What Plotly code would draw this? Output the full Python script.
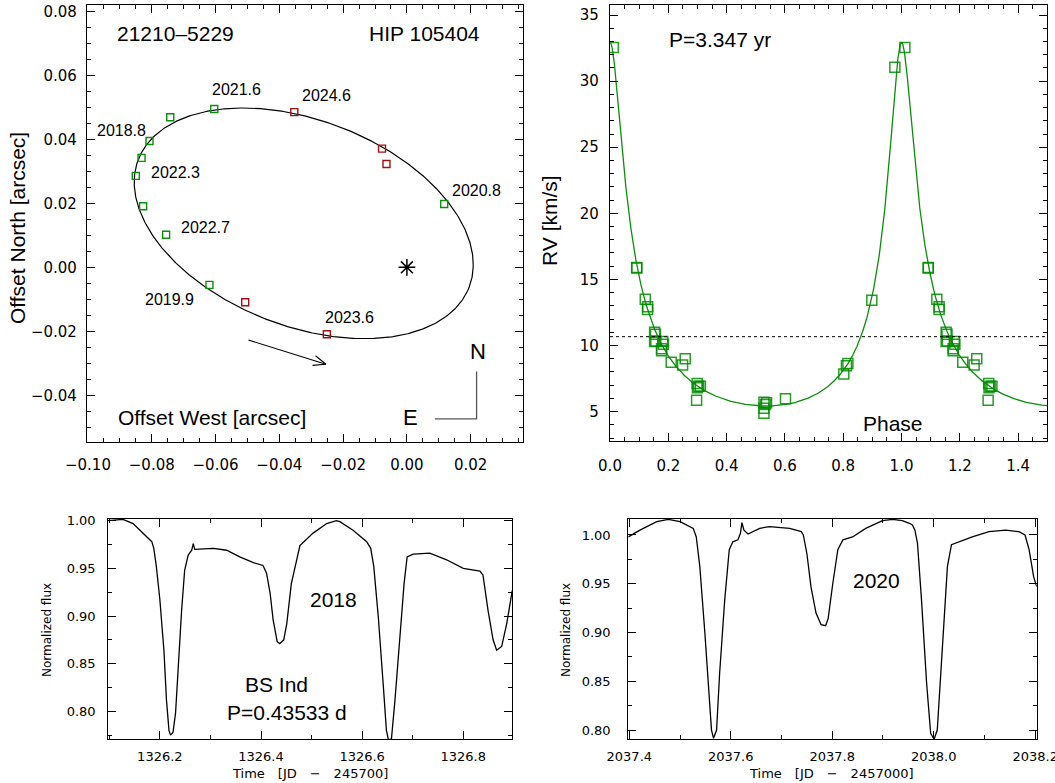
import numpy as np
import plotly.graph_objects as go

# ---------------- Relative astrometry (arcsec) ----------------
ORBIT_GREEN_X = [-0.0742, -0.0807, -0.0832, -0.0850, -0.0827, -0.0755, -0.0604, 0.0117, -0.0619]
ORBIT_GREEN_Y = [0.0469, 0.0395, 0.0342, 0.0286, 0.0191, 0.0102, 0.0495, 0.0198, -0.0055]
ORBIT_RED_X = [-0.0353, -0.0078, -0.0064, -0.0507, -0.0251]
ORBIT_RED_Y = [0.0485, 0.0371, 0.0323, -0.0109, -0.0209]

EPOCH_LABELS = ["2021.6", "2024.6", "2018.8", "2022.3", "2020.8", "2022.7", "2019.9", "2023.6"]
EPOCH_X = [-0.0534, -0.0252, -0.0894, -0.0725, 0.0218, -0.0630, -0.0743, -0.0179]
EPOCH_Y = [0.0557, 0.0538, 0.0427, 0.0296, 0.0239, 0.0125, -0.0102, -0.0158]

# apparent orbit ellipse: centre, semi-axes, orientation
ELL_CX, ELL_CY = -0.03235, 0.01375
ELL_A, ELL_B, ELL_PA_DEG = 0.05557, 0.0322, -20.98

# direction-of-motion arrow and N/E compass
ARROW_X = [-0.0497, -0.0254]
ARROW_Y = [-0.0227, -0.0303]
COMPASS_X = [0.00878, 0.02185, 0.02185]
COMPASS_Y = [-0.0474, -0.0474, -0.0326]

# ---------------- Radial velocities ----------------
RV_PHASE = [0.0114, 0.0914, 0.0920, 0.121, 0.129, 0.129, 0.153, 0.156, 0.153, 0.157,
            0.181, 0.183, 0.177, 0.177, 0.210, 0.249, 0.258, 0.299, 0.304, 0.310,
            0.300, 0.297, 0.528, 0.528, 0.528, 0.537, 0.533, 0.602, 0.802, 0.811,
            0.816, 0.898, 0.977]
RV_VALUE = [32.55, 15.86, 15.90, 13.5, 12.94, 12.72, 11.0, 10.85, 10.3, 10.35,
            10.3, 10.1, 9.75, 9.6, 8.74, 8.52, 9.0, 7.13, 6.93, 6.93,
            6.8, 5.87, 5.72, 5.25, 4.87, 5.67, 5.55, 5.97, 7.84, 8.47,
            8.64, 13.42, 31.04]

# spectroscopic orbit
PERIOD_YR = 3.347
ECC = 0.62
OMEGA_DEG = -4.0
K_KMS = 13.75
GAMMA_KMS = 10.67
PERI_PHASE = 0.998

# ---------------- Photometry ----------------
LC2018_TIME = [1326.098, 1326.127, 1326.147, 1326.184, 1326.188, 1326.193, 1326.200, 1326.208,
               1326.213, 1326.218, 1326.221, 1326.226, 1326.231, 1326.236, 1326.243, 1326.249,
               1326.256, 1326.263, 1326.266, 1326.269, 1326.306, 1326.332, 1326.358, 1326.385,
               1326.404, 1326.411, 1326.418, 1326.424, 1326.432, 1326.437, 1326.445, 1326.451,
               1326.460, 1326.477, 1326.503, 1326.530, 1326.549, 1326.556, 1326.582, 1326.609,
               1326.617, 1326.623, 1326.632, 1326.642, 1326.648, 1326.652, 1326.658, 1326.665,
               1326.675, 1326.683, 1326.689, 1326.701, 1326.734, 1326.767, 1326.800, 1326.833,
               1326.839, 1326.849, 1326.859, 1326.866, 1326.876, 1326.886, 1326.897]
LC2018_FLUX = [1.000, 1.0014, 0.997, 0.978, 0.971, 0.952, 0.917, 0.864,
               0.812, 0.780, 0.775, 0.778, 0.798, 0.847, 0.906, 0.948,
               0.964, 0.969, 0.976, 0.970, 0.971, 0.969, 0.962, 0.956,
               0.953, 0.945, 0.924, 0.896, 0.873, 0.871, 0.875, 0.892,
               0.934, 0.974, 0.987, 0.997, 1.000, 0.999, 0.990, 0.978,
               0.971, 0.952, 0.899, 0.826, 0.780, 0.770, 0.771, 0.812,
               0.882, 0.934, 0.962, 0.965, 0.966, 0.959, 0.950, 0.947,
               0.943, 0.906, 0.875, 0.864, 0.868, 0.892, 0.927]

LC2020_TIME = [2037.398, 2037.421, 2037.454, 2037.477, 2037.500, 2037.526, 2037.532, 2037.539,
               2037.549, 2037.557, 2037.562, 2037.566, 2037.572, 2037.578, 2037.588, 2037.597,
               2037.604, 2037.614, 2037.619, 2037.622, 2037.626, 2037.634, 2037.657, 2037.676,
               2037.716, 2037.739, 2037.743, 2037.750, 2037.758, 2037.768, 2037.778, 2037.787,
               2037.792, 2037.801, 2037.811, 2037.821, 2037.840, 2037.866, 2037.899, 2037.919,
               2037.938, 2037.952, 2037.958, 2037.963, 2037.968, 2037.976, 2037.986, 2037.994,
               2038.0007, 2038.007, 2038.017, 2038.027, 2038.035, 2038.050, 2038.076, 2038.109,
               2038.142, 2038.168, 2038.180, 2038.188, 2038.197, 2038.203]
LC2020_FLUX = [0.998, 1.005, 1.0137, 1.016, 1.0137, 1.0068, 0.998, 0.9675,
               0.899, 0.831, 0.800, 0.7915, 0.800, 0.858, 0.933, 0.985,
               0.993, 0.995, 1.0017, 1.0126, 1.005, 1.001, 1.0068, 1.0085,
               1.0068, 1.0034, 1.000, 0.981, 0.947, 0.920, 0.908, 0.907,
               0.9145, 0.950, 0.985, 0.995, 0.998, 1.0068, 1.0147, 1.016,
               1.0147, 1.012, 1.0103, 1.005, 0.9915, 0.933, 0.848, 0.7967,
               0.7905, 0.800, 0.882, 0.9675, 0.990, 0.993, 0.998, 1.0034,
               1.005, 1.0034, 1.000, 0.985, 0.957, 0.947]

HELV = "Liberation Sans"
TICKFONT = "DejaVu Sans"
GREEN = "#0a8f0a"
DARKRED = "#a01010"


def kepler_rv(phase):
    """Keplerian radial velocity at the given orbital phases."""
    M = 2 * np.pi * np.mod(np.asarray(phase) - PERI_PHASE, 1.0)
    E = M + ECC * np.sin(M)
    for _ in range(60):
        E = E - (E - ECC * np.sin(E) - M) / (1 - ECC * np.cos(E))
    nu = 2 * np.arctan2(np.sqrt(1 + ECC) * np.sin(E / 2), np.sqrt(1 - ECC) * np.cos(E / 2))
    w = np.radians(OMEGA_DEG)
    return GAMMA_KMS + K_KMS * (np.cos(nu + w) + ECC * np.cos(w))


fig = go.Figure()

# ---- panel 1: visual orbit ----
t = np.linspace(0, 2 * np.pi, 600)
pa = np.radians(ELL_PA_DEG)
ex = ELL_CX + ELL_A * np.cos(pa) * np.cos(t) - ELL_B * np.sin(pa) * np.sin(t)
ey = ELL_CY + ELL_A * np.sin(pa) * np.cos(t) + ELL_B * np.cos(pa) * np.sin(t)
fig.add_trace(go.Scatter(x=ex, y=ey, mode="lines", line=dict(color="black", width=1.2),
                         xaxis="x", yaxis="y", hoverinfo="skip"))
fig.add_trace(go.Scatter(x=ORBIT_GREEN_X, y=ORBIT_GREEN_Y, mode="markers",
                         marker=dict(symbol="square-open", size=7, color=GREEN, line=dict(width=1.4)),
                         xaxis="x", yaxis="y"))
fig.add_trace(go.Scatter(x=ORBIT_RED_X, y=ORBIT_RED_Y, mode="markers",
                         marker=dict(symbol="square-open", size=7, color=DARKRED, line=dict(width=1.4)),
                         xaxis="x", yaxis="y"))
fig.add_trace(go.Scatter(x=[0.0], y=[0.0], mode="markers",
                         marker=dict(symbol="asterisk-open", size=14, color="black", line=dict(width=1.5)),
                         xaxis="x", yaxis="y"))

# motion arrow with an open head
ax0, ax1 = ARROW_X
ay0, ay1 = ARROW_Y
phi = np.arctan2(ay1 - ay0, ax1 - ax0)
head = 0.0042
alpha = np.radians(22)
bx = [ax1 - head * np.cos(phi + alpha), ax1, ax1 - head * np.cos(phi - alpha)]
by = [ay1 - head * np.sin(phi + alpha), ay1, ay1 - head * np.sin(phi - alpha)]
fig.add_trace(go.Scatter(x=ARROW_X, y=ARROW_Y, mode="lines", line=dict(color="black", width=1.1),
                         xaxis="x", yaxis="y"))
fig.add_trace(go.Scatter(x=bx, y=by, mode="lines", line=dict(color="black", width=1.1),
                         xaxis="x", yaxis="y"))
fig.add_trace(go.Scatter(x=COMPASS_X, y=COMPASS_Y, mode="lines", line=dict(color="#555555", width=1.3),
                         xaxis="x", yaxis="y"))

# ---- panel 2: radial velocity curve ----
ph = np.linspace(0, 1.5, 6001)
fig.add_trace(go.Scatter(x=ph, y=kepler_rv(ph), mode="lines", line=dict(color=GREEN, width=1.3),
                         xaxis="x2", yaxis="y2", hoverinfo="skip"))
rv_x = list(RV_PHASE) + [p + 1 for p in RV_PHASE if p + 1 <= 1.5]
rv_y = list(RV_VALUE) + [v for p, v in zip(RV_PHASE, RV_VALUE) if p + 1 <= 1.5]
fig.add_trace(go.Scatter(x=rv_x, y=rv_y, mode="markers",
                         marker=dict(symbol="square-open", size=10, color="rgba(0,140,0,0.85)",
                                     line=dict(width=1.5)),
                         xaxis="x2", yaxis="y2"))

# ---- panels 3 & 4: light curves ----
fig.add_trace(go.Scatter(x=LC2018_TIME, y=LC2018_FLUX, mode="lines",
                         line=dict(color="black", width=1.3), xaxis="x3", yaxis="y3"))
fig.add_trace(go.Scatter(x=LC2020_TIME, y=LC2020_FLUX, mode="lines",
                         line=dict(color="black", width=1.3), xaxis="x4", yaxis="y4"))


def frame(dom, rng, major, minor, fmt, size, standoff, tick0=None, anchor=None):
    ax = dict(domain=dom, range=rng, showline=True, linecolor="black", linewidth=1.2,
              mirror="ticks", ticks="inside", ticklen=8, tickwidth=1.1, tickcolor="black",
              showgrid=False, zeroline=False, dtick=major, tickformat=fmt,
              tickfont=dict(family=TICKFONT, size=size, color="black"),
              ticklabelstandoff=standoff, ticklabeloverflow="allow",
              automargin=False, anchor=anchor,
              minor=dict(dtick=minor, ticks="inside", ticklen=4, tickwidth=1,
                         tickcolor="black", showgrid=False))
    if tick0 is not None:
        ax["tick0"] = tick0
        ax["minor"]["tick0"] = tick0
    return ax


W, H = 1055.0, 783.0


def xd(a, b):
    return [a / W, b / W]


def yd(top, bottom):
    return [1 - bottom / H, 1 - top / H]


fig.update_layout(
    width=1055, height=783, margin=dict(l=0, r=0, t=0, b=0),
    paper_bgcolor="white", plot_bgcolor="white", showlegend=False,
    xaxis=frame(xd(87, 523), [-0.1003, 0.0364], 0.02, 0.005, ".2f", 15, 9, tick0=0, anchor="y"),
    yaxis=frame(yd(5, 442), [-0.0546, 0.082], 0.02, 0.005, ".2f", 15, 6, tick0=0, anchor="x"),
    xaxis2=frame(xd(610, 1047.3), [0, 1.5], 0.2, 0.05, ".1f", 15, 11, tick0=0, anchor="y2"),
    yaxis2=frame(yd(4.7, 441), [2.78, 35.78], 5, 1, "d", 15, 7, tick0=0, anchor="x2"),
    xaxis3=frame(xd(108.3, 512.3), [1326.098, 1326.897], 0.2, 0.1, ".1f", 13, 5, tick0=1326.0, anchor="y3"),
    yaxis3=frame(yd(519, 739.3), [0.7706, 1.0018], 0.05, 0.025, ".2f", 13, 9, tick0=0.8, anchor="x3"),
    xaxis4=frame(xd(628.3, 1036.7), [2037.398, 2038.203], 0.2, 0.1, ".1f", 13, 5, tick0=2037.4, anchor="y4"),
    yaxis4=frame(yd(519, 739.3), [0.7905, 1.0164], 0.05, 0.025, ".2f", 13, 14, tick0=0.8, anchor="x4"),
)

ann = []


def data_text(text, x, y, xref, yref, size):
    ann.append(dict(text=text, x=x, y=y, xref=xref, yref=yref, showarrow=False,
                    font=dict(family=HELV, size=size, color="black"),
                    xanchor="center", yanchor="middle"))


def paper_text(text, px, py, size, family=HELV, angle=0):
    ann.append(dict(text=text, x=px / W, y=1 - py / H, xref="paper", yref="paper",
                    showarrow=False, textangle=angle,
                    font=dict(family=family, size=size, color="black"),
                    xanchor="center", yanchor="middle"))


for lab, x, y in zip(EPOCH_LABELS, EPOCH_X, EPOCH_Y):
    data_text(lab, x, y, "x", "y", 16)
data_text("21210–5229", -0.0727, 0.0732, "x", "y", 21)
data_text("HIP 105404", 0.0056, 0.0732, "x", "y", 21)
data_text("Offset West [arcsec]", -0.0612, -0.0470, "x", "y", 21)
data_text("N", 0.0222, -0.0264, "x", "y", 22)
data_text("E", 0.00125, -0.0470, "x", "y", 22)

paper_text("Offset North [arcsec]", 17, 228, 21, angle=-90)
paper_text("RV [km/s]", 549, 221, 21, angle=-90)
paper_text("P=3.347 yr", 720, 39.3, 21)
paper_text("Phase", 892.7, 423.3, 21)

paper_text("2018", 333, 599, 21)
paper_text("BS Ind", 276, 684, 21)
paper_text("P=0.43533 d", 287, 712, 21)
paper_text("2020", 876.7, 580, 21)

paper_text("Normalized flux", 47, 630, 12, family=TICKFONT, angle=-90)
paper_text("Normalized flux", 566, 630, 12, family=TICKFONT, angle=-90)
paper_text("Time\u2003[JD\u2003\u2212\u2003245700]", 310, 773, 13, family=TICKFONT)
paper_text("Time\u2003[JD\u2003\u2212\u20032457000]", 831, 773, 13, family=TICKFONT)

fig.update_layout(annotations=ann)

# systemic velocity
fig.add_shape(type="line", xref="x2", yref="y2", x0=0, x1=1.5, y0=GAMMA_KMS, y1=GAMMA_KMS,
              line=dict(color="black", width=1, dash="dot"))

fig.write_html("out.html")
